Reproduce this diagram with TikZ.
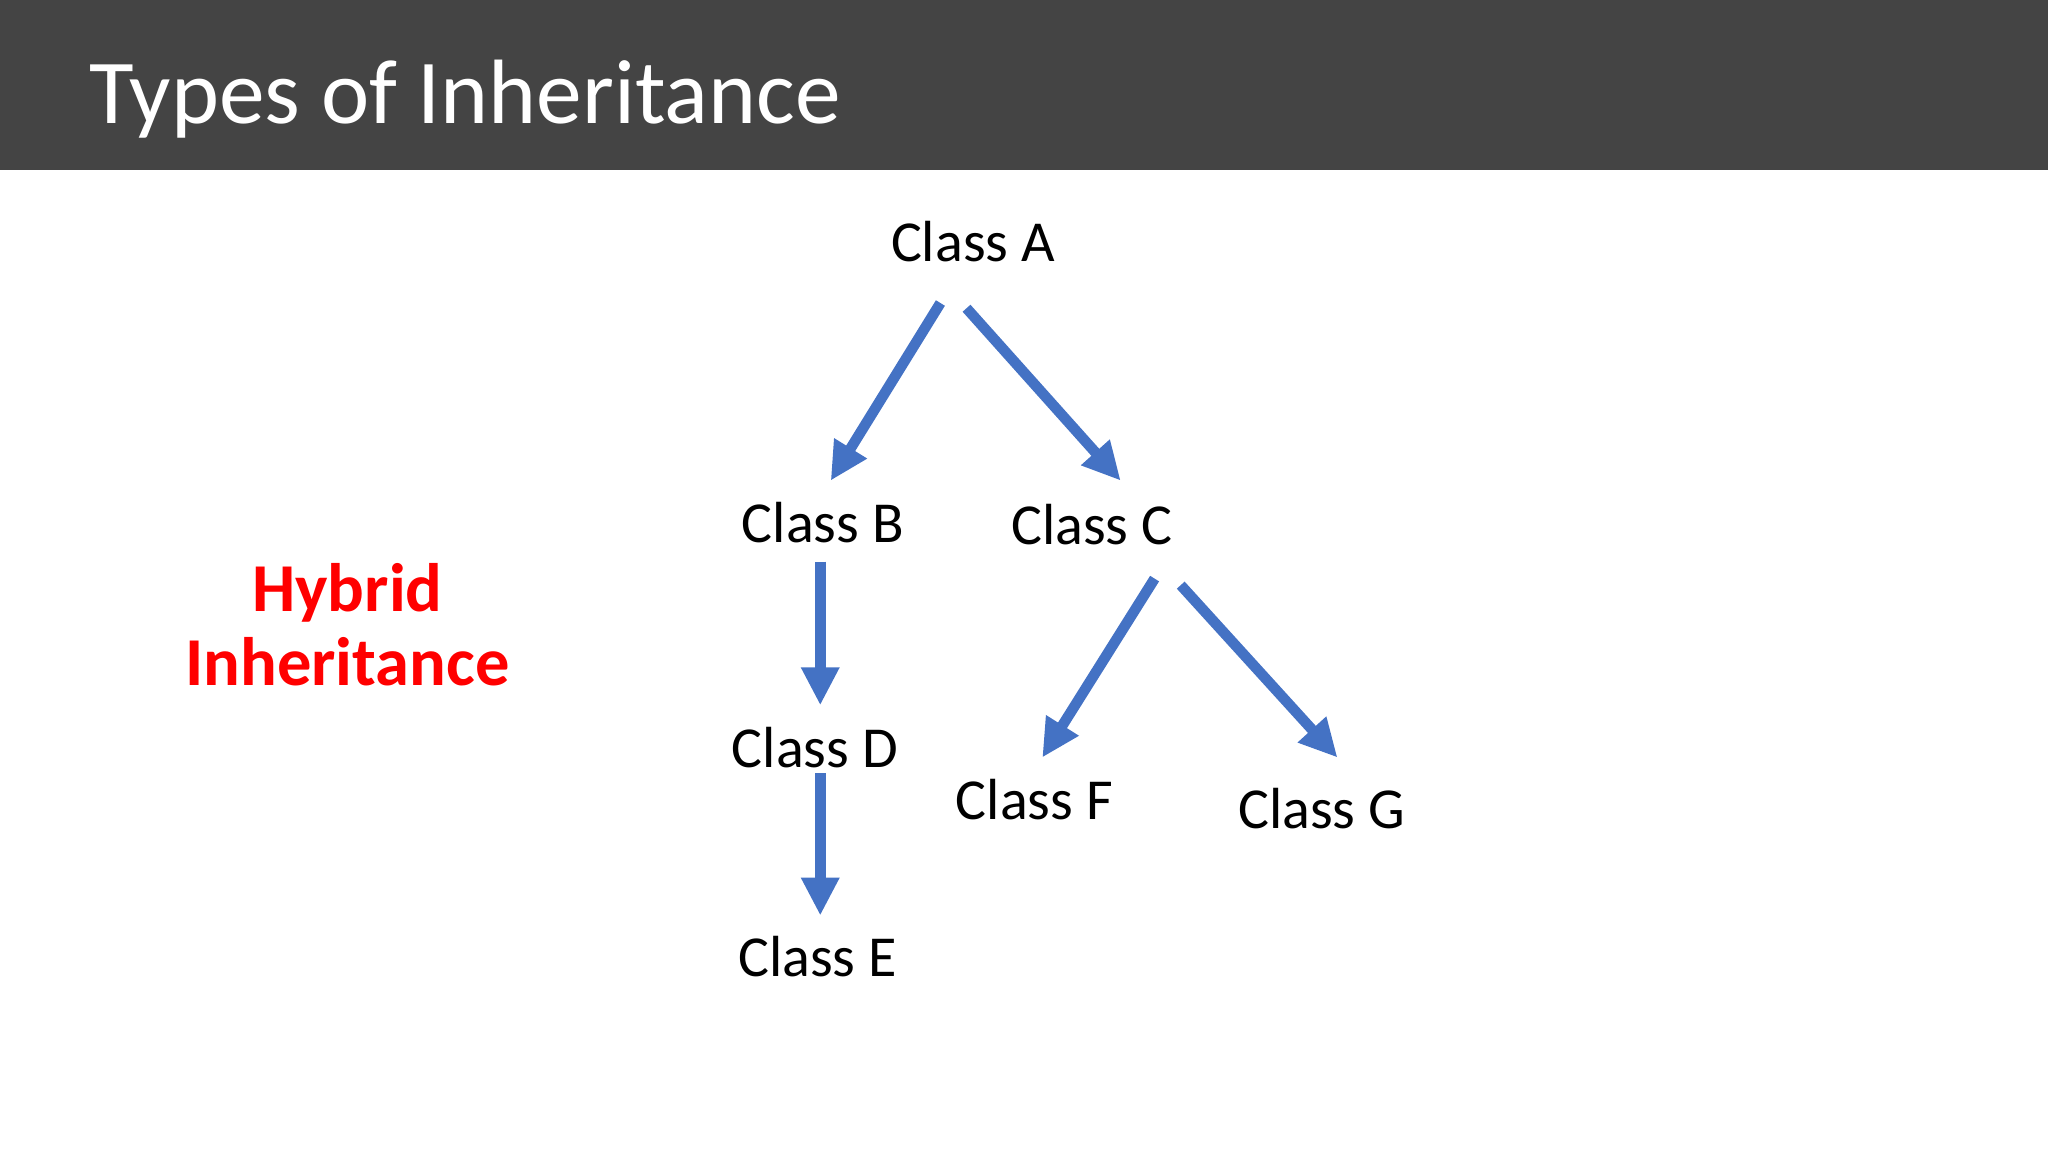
\documentclass[tikz,border=0pt]{standalone}
\usepackage{fontspec}
\setmainfont{Carlito}
\usetikzlibrary{arrows.meta}
\definecolor{headgrey}{HTML}{444444}
\definecolor{arrowblue}{HTML}{4472C4}
\definecolor{hybridred}{HTML}{FF0000}
\tikzset{
  cls/.style={font=\fontsize{16.5}{20}\selectfont, inner sep=0pt},
  inh/.style={draw=arrowblue, line width=3pt, -{Triangle[length=0.38cm,width=0.36cm]}}
}
\begin{document}
\begin{tikzpicture}[x=0.01306cm,y=-0.01306cm]
            \useasboundingbox (0,0) rectangle (1568,882);
            \fill[headgrey] (0,0) rectangle (1568,130);
            \node[anchor=west, text=white, font=\fontsize{26}{32}\selectfont, inner sep=0pt] (title) at (68,76) {Types of Inheritance};
            
            \node[text=hybridred, font=\bfseries\fontsize{19.5}{21}\selectfont, align=center] (hyb) at (266,478) {Hybrid\\Inheritance};
            
            \node[cls] (A) at (745,185) {Class A};
            \node[cls] (B) at (630,400) {Class B};
            \node[cls] (C) at (836,402) {Class C};
            \node[cls] (D) at (624,572) {Class D};
            \node[cls] (E) at (626,732) {Class E};
            \node[cls] (F) at (792,612) {Class F};
            \node[cls] (G) at (1012,619) {Class G};
            
            \coordinate (ab1) at (720,232);
            \coordinate (ab2) at (636,368);
            \coordinate (ac1) at (740,236);
            \coordinate (ac2) at (858,368);
            \coordinate (bd1) at (628,430);
            \coordinate (bd2) at (628,540);
            \coordinate (de1) at (628,592);
            \coordinate (de2) at (628,701);
            \coordinate (cf1) at (884,443);
            \coordinate (cf2) at (798,580);
            \coordinate (cg1) at (904,448);
            \coordinate (cg2) at (1024,580);
            
            \draw[inh] (ab1) -- (ab2);
            \draw[inh] (ac1) -- (ac2);
            \draw[inh] (bd1) -- (bd2);
            \draw[inh] (de1) -- (de2);
            \draw[inh] (cf1) -- (cf2);
            \draw[inh] (cg1) -- (cg2);
\end{tikzpicture}
\end{document}
